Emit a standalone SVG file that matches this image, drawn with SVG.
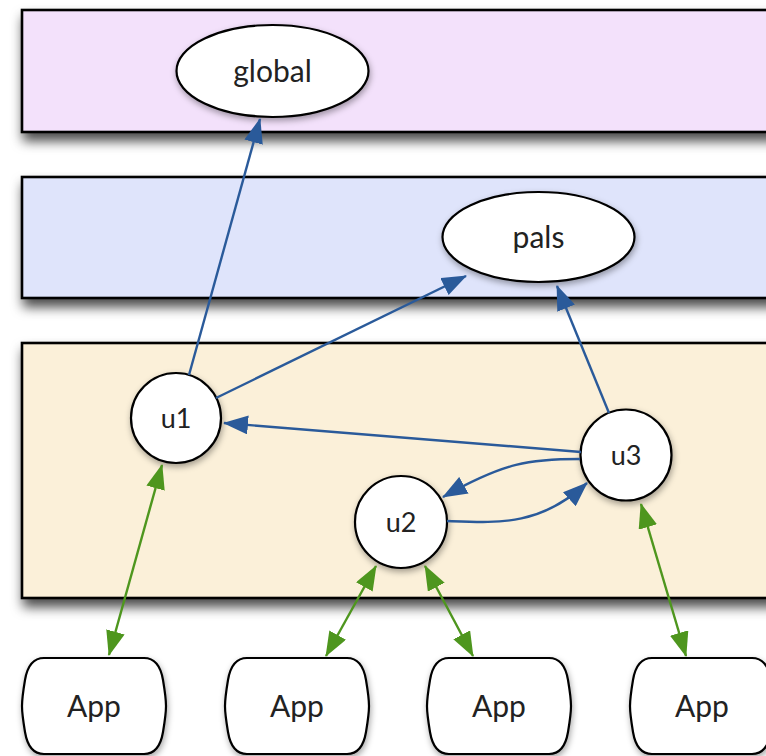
<svg xmlns="http://www.w3.org/2000/svg" xmlns:xlink="http://www.w3.org/1999/xlink" width="766" height="756" viewBox="0 0 766 756">
<style>
.band{stroke:#000;stroke-width:2.6;filter:url(#bandShadow)}
.node{fill:#fff;stroke:#000;stroke-width:2.2;filter:url(#nodeShadow)}
.lbl{font-family:Lato,"Open Sans","DejaVu Sans",sans-serif;font-weight:400;font-size:30px;fill:#222;text-anchor:middle}
.ulbl{font-size:27px}
.blue{fill:none;stroke:#2a5a9a;stroke-width:2.4;marker-end:url(#ahBlue)}
.green{fill:none;stroke:#4e961e;stroke-width:2.4;marker-end:url(#ahGreen);marker-start:url(#ahGreen)}
</style>
<defs>
<filter id="bandShadow" x="-5%" y="-20%" width="115%" height="160%">
<feDropShadow dx="2" dy="8" stdDeviation="6" flood-color="#000" flood-opacity="0.7"/>
</filter>
<filter id="nodeShadow" x="-20%" y="-20%" width="150%" height="150%">
<feDropShadow dx="1" dy="3" stdDeviation="3" flood-color="#000" flood-opacity="0.35"/>
</filter>
<marker id="ahBlue" viewBox="0 0 25 19" refX="24" refY="9.5" markerWidth="25" markerHeight="19" markerUnits="userSpaceOnUse" orient="auto-start-reverse">
<path d="M0,0 L25,9.5 L0,19 Z" fill="#2a5a9a"/>
</marker>
<marker id="ahGreen" viewBox="0 0 25 19" refX="24" refY="9.5" markerWidth="25" markerHeight="19" markerUnits="userSpaceOnUse" orient="auto-start-reverse">
<path d="M0,0 L25,9.5 L0,19 Z" fill="#4e961e"/>
</marker>
<path id="appShape" d="M22,0 H122 C134,0 139,10 141,22 C143,34 144,42 144,48 C144,54 143,62 141,74 C139,86 134,96 122,96 H22 C10,96 5,86 3,74 C1,62 0,54 0,48 C0,42 1,34 3,22 C5,10 10,0 22,0 Z"/>
</defs>
<rect width="766" height="756" fill="#fff"/>
<g id="bands">
<rect id="band-global" class="band" x="22" y="10" width="770" height="122" fill="#f3e1fb"/>
<rect id="band-pals" class="band" x="22" y="177" width="770" height="121" fill="#dfe4fb"/>
<rect id="band-users" class="band" x="22" y="343" width="770" height="255" fill="#fbf0d9"/>
</g>
<g id="node-global">
<ellipse class="node" cx="272.5" cy="71" rx="96" ry="46"/>
<text class="lbl" x="272.5" y="82">global</text>
</g>
<g id="node-pals">
<ellipse class="node" cx="538.5" cy="237" rx="96" ry="45"/>
<text class="lbl" x="538.5" y="248">pals</text>
</g>
<g id="node-u1">
<circle class="node" cx="176" cy="418" r="45"/>
<text class="lbl ulbl" x="176" y="428">u1</text>
</g>
<g id="node-u2">
<circle class="node" cx="401" cy="522" r="46"/>
<text class="lbl ulbl" x="401" y="532">u2</text>
</g>
<g id="node-u3">
<circle class="node" cx="626" cy="455" r="45.5"/>
<text class="lbl ulbl" x="626" y="465">u3</text>
</g>
<g id="node-app1" transform="translate(22,658)">
<use xlink:href="#appShape" class="node"/>
<text class="lbl" x="72" y="59">App</text>
</g>
<g id="node-app2" transform="translate(225,658)">
<use xlink:href="#appShape" class="node"/>
<text class="lbl" x="72" y="59">App</text>
</g>
<g id="node-app3" transform="translate(427,658)">
<use xlink:href="#appShape" class="node"/>
<text class="lbl" x="72" y="59">App</text>
</g>
<g id="node-app4" transform="translate(630,658)">
<use xlink:href="#appShape" class="node"/>
<text class="lbl" x="72" y="59">App</text>
</g>
<g id="connectors">
<path class="blue" d="M189,375 L260,119"/>
<path class="blue" d="M216,398 L466,276"/>
<path class="blue" d="M609,413 L557,286"/>
<path class="blue" d="M581,452 L224,423"/>
<path class="blue" d="M580,459 C530,459 505,462 443,497"/>
<path class="blue" d="M447,521 C500,523 540,526 587,483"/>
<path class="green" d="M162,465 L109,655"/>
<path class="green" d="M376,566 L326,656"/>
<path class="green" d="M425,566 L473,656"/>
<path class="green" d="M641,504 L686,656"/>
</g>
</svg>
